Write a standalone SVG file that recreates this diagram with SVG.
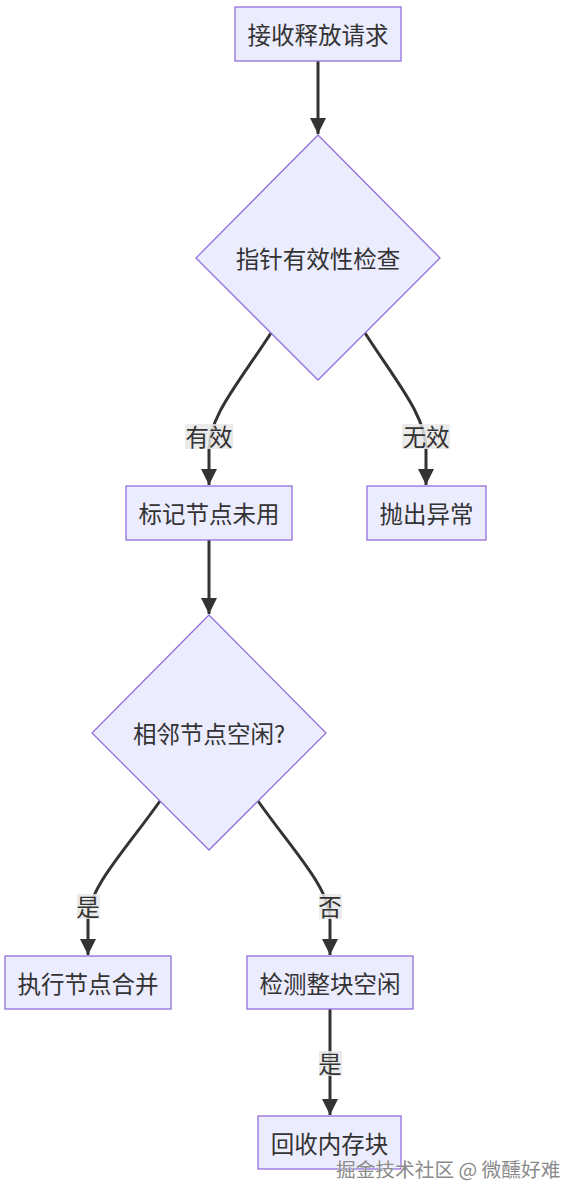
<svg xmlns="http://www.w3.org/2000/svg" width="580" height="1201" viewBox="0 0 580 1201">
<style>
.node rect,.node polygon{fill:#ECECFF;stroke:#9370DB;stroke-width:1.3}
.t{font-family:"Noto Sans CJK SC","Noto Sans",sans-serif;font-size:23.5px;fill:#333;text-anchor:middle;dominant-baseline:central}
.edge{fill:none;stroke:#333;stroke-width:3}
.lbg{fill:#e8e8e8;opacity:0.85}
.wm{font-family:"Noto Sans CJK SC","Noto Sans",sans-serif;font-size:19.7px;fill:#8a8a8a;stroke:#fff;stroke-width:0.6;paint-order:stroke}
</style>
<defs>
<marker id="ah" viewBox="0 0 10 10" refX="10" refY="5" markerWidth="16" markerHeight="17" markerUnits="userSpaceOnUse" orient="auto">
<path d="M0,0 L10,5 L0,10 z" fill="#333"/>
</marker>
</defs>
<rect width="580" height="1201" fill="#fff"/>
<g id="edges">
<path class="edge" d="M318,61 L318,134" marker-end="url(#ah)"/>
<path class="edge" d="M271,333 C238,384 209,416 209,450 L209,485" marker-end="url(#ah)"/>
<path class="edge" d="M365,333 C398,384 426,416 426,450 L426,485" marker-end="url(#ah)"/>
<path class="edge" d="M209,540 L209,614" marker-end="url(#ah)"/>
<path class="edge" d="M160,801 C124,852 88,888 88,920 L88,955" marker-end="url(#ah)"/>
<path class="edge" d="M258,801 C294,852 330,888 330,920 L330,955" marker-end="url(#ah)"/>
<path class="edge" d="M330,1009 L330,1115" marker-end="url(#ah)"/>
</g>
<g id="edge-labels">
<rect class="lbg" x="185" y="424" width="48" height="25"/><text class="t" x="209" y="436">有效</text>
<rect class="lbg" x="402" y="424" width="48" height="25"/><text class="t" x="426" y="436">无效</text>
<rect class="lbg" x="77" y="894" width="23" height="25"/><text class="t" x="88" y="906">是</text>
<rect class="lbg" x="319" y="894" width="23" height="25"/><text class="t" x="330" y="906">否</text>
<rect class="lbg" x="319" y="1051" width="23" height="25"/><text class="t" x="330" y="1063">是</text>
</g>
<g id="n1" class="node"><rect x="235" y="7" width="166" height="54"/><text class="t" x="318" y="34">接收释放请求</text></g>
<g id="n2" class="node"><polygon points="318,135 440,258 318,380 196,258"/><text class="t" x="318" y="258">指针有效性检查</text></g>
<g id="n3" class="node"><rect x="126" y="486" width="166" height="54"/><text class="t" x="209" y="513">标记节点未用</text></g>
<g id="n4" class="node"><rect x="367" y="486" width="119" height="54"/><text class="t" x="426.5" y="513">抛出异常</text></g>
<g id="n5" class="node"><polygon points="209,615 326,733 209,850 92,733"/><text class="t" x="209" y="733">相邻节点空闲?</text></g>
<g id="n6" class="node"><rect x="5" y="956" width="166" height="53"/><text class="t" x="88" y="982.5">执行节点合并</text></g>
<g id="n7" class="node"><rect x="247" y="956" width="166" height="53"/><text class="t" x="330" y="982.5">检测整块空闲</text></g>
<g id="n8" class="node"><rect x="258" y="1116" width="143" height="53"/><text class="t" x="329.5" y="1142.5">回收内存块</text></g>
<text class="wm" x="336" y="1177">掘金技术社区 @ 微醺好难</text>
</svg>
